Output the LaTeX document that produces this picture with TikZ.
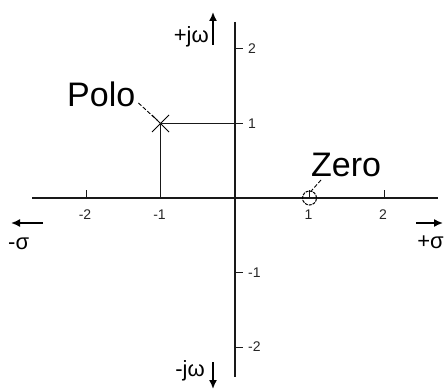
\documentclass[tikz,border=0pt]{standalone}
\usepackage{fontspec}
\setmainfont{Liberation Sans}
\usetikzlibrary{arrows.meta,shapes.misc}
\begin{document}
\begin{tikzpicture}[x=1pt,y=-1pt,
  axis/.style={line width=1.3pt,draw=black!90},
  tickmark/.style={line width=1pt,draw=black!90},
  guide/.style={line width=1pt,draw=black!90},
  ticklbl/.style={font=\fontsize{14}{14}\selectfont,text=black!85,inner sep=0pt},
  biglbl/.style={font=\fontsize{34}{34}\selectfont,inner sep=0pt},
  axlbl/.style={font=\fontsize{22}{22}\selectfont,inner sep=0pt},
  dirarrow/.style={line width=1.6pt,-{Latex[length=9pt,width=8pt]}},
  leader/.style={line width=0.9pt,dash pattern=on 4pt off 2pt}]
\useasboundingbox (0,0) rectangle (444,390);
% axes
\coordinate (O) at (235,198);
\coordinate (L) at (32,198);
\coordinate (R) at (438,198);
\coordinate (T) at (235,22);
\coordinate (B) at (235,377);
\draw[axis] (L) -- (R);
\draw[axis] (T) -- (B);
% horizontal ticks
\foreach \n/\x/\t in {hm2/86/-2, hm1/160.5/-1, hp1/309.5/1, hp2/384/2} {
  \coordinate (\n) at (\x,198);
  \draw[tickmark] (\n) -- ++(0,-8);
  \node[ticklbl,anchor=base] (l\n) at (\x-1,219) {\t};
}
% vertical ticks
\foreach \n/\y/\t in {vp2/49/2, vp1/123.5/1, vm1/272.5/-1, vm2/347/-2} {
  \coordinate (\n) at (235,\y);
  \draw[tickmark] (\n) -- ++(8,0);
  \node[ticklbl,anchor=west] (l\n) at (248,\y) {\t};
}
% pole
\node[draw,cross out,minimum size=16pt,inner sep=0pt,line width=1pt] (pole) at (160.5,123.5) {};
\draw[guide] (pole.center) -- (pole.center |- O);
\draw[guide] (pole.center) -- (pole.center -| O);
\node[biglbl,anchor=base west] (polo) at (67,107) {Polo};
\draw[leader] ([shift={(3,-4)}]polo.base east) -- ([shift={(-3,-3)}]pole.center);
% zero
\node[draw,circle,minimum size=14pt,inner sep=0pt,line width=1pt,dash pattern=on 3pt off 1pt] (zero) at (309.5,198) {};
\node[biglbl,anchor=base west] (zerolbl) at (311,176) {Zero};
\draw[leader] ([shift={(10,4)}]zerolbl.base west) -- (zero.75);
% direction arrows
\coordinate (upS) at (213,45);
\coordinate (upE) at (213,12);
\draw[dirarrow] (upS) -- (upE);
\node[axlbl,anchor=base east] (pjw) at (209,43) {+jω};
\coordinate (dnS) at (213,362);
\coordinate (dnE) at (213,389);
\draw[dirarrow] (dnS) -- (dnE);
\node[axlbl,anchor=base east] (mjw) at (205,376) {-jω};
\coordinate (lfS) at (43,223);
\coordinate (lfE) at (11,223);
\draw[dirarrow] (lfS) -- (lfE);
\node[axlbl,anchor=base west] (msig) at (8,249) {-σ};
\coordinate (rtS) at (416,223);
\coordinate (rtE) at (443,223);
\draw[dirarrow] (rtS) -- (rtE);
\node[axlbl,anchor=base east] (psig) at (444,248) {+σ};
\end{tikzpicture}
\end{document}
